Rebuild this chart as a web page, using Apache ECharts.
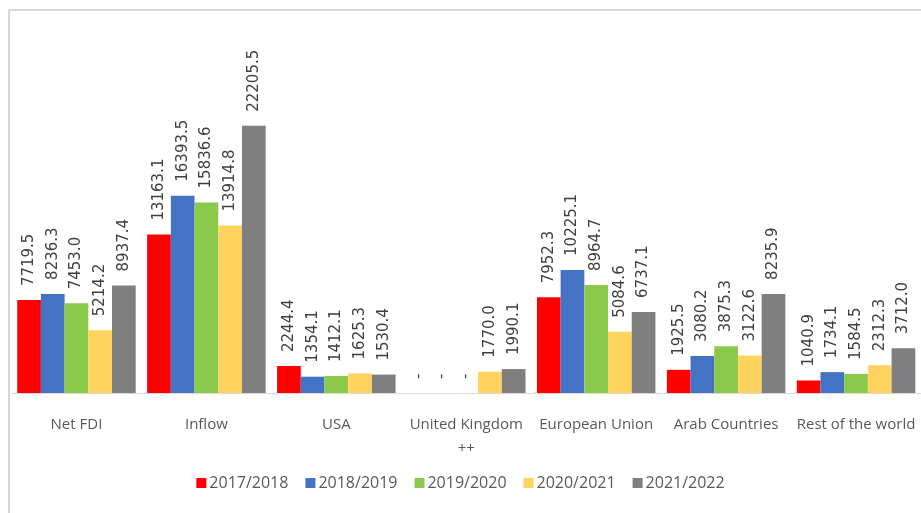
<!DOCTYPE html>
<html>
<head>
<meta charset="utf-8">
<script src="https://cdn.jsdelivr.net/npm/echarts@6/dist/echarts.min.js"></script>
<style>
html,body{margin:0;padding:0;background:#fff;}
#chart{width:921px;height:513px;}
</style>
</head>
<body>
<div id="chart"></div>
<script>
const categories = ['Net FDI', 'Inflow', 'USA', 'United Kingdom\n++', 'European Union', 'Arab Countries', 'Rest of the world'];
const seriesNames = ['2017/2018', '2018/2019', '2019/2020', '2020/2021', '2021/2022'];
const s2017 = [7719.5, 13163.1, 2244.4, 0, 7952.3, 1925.5, 1040.9];
const s2018 = [8236.3, 16393.5, 1354.1, 0, 10225.1, 3080.2, 1734.1];
const s2019 = [7453.0, 15836.6, 1412.1, 0, 8964.7, 3875.3, 1584.5];
const s2020 = [5214.2, 13914.8, 1625.3, 1770.0, 5084.6, 3122.6, 2312.3];
const s2021 = [8937.4, 22205.5, 1530.4, 1990.1, 6737.1, 8235.9, 3712.0];
const seriesData = [s2017, s2018, s2019, s2020, s2021];
const colors = ['#FF0000', '#4472C4', '#8BC94A', '#FFD45E', '#7F7F7F'];

const chart = echarts.init(document.getElementById('chart'));
chart.setOption({
  animation: false,
  grid: { left: 11.5, right: -3, top: 32, bottom: 120 },
  graphic: [
    { type: 'line', shape: { x1: 9, y1: 10, x2: 921, y2: 10 }, style: { stroke: '#d6d6d6', lineWidth: 2 } },
    { type: 'line', shape: { x1: 9, y1: 10, x2: 9, y2: 513 }, style: { stroke: '#d6d6d6', lineWidth: 2 } }
  ],
  legend: {
    bottom: 17,
    left: 'center',
    icon: 'rect',
    itemWidth: 10,
    itemHeight: 10,
    itemGap: 17,
    textStyle: { fontFamily: 'Open Sans', fontSize: 16, color: '#595959', padding: [0, 0, 0, -2] },
    data: seriesNames
  },
  xAxis: {
    type: 'category',
    data: categories,
    axisLine: { lineStyle: { color: '#d9d9d9', width: 1 } },
    axisTick: { show: false },
    axisLabel: { fontFamily: 'Open Sans', fontSize: 15, color: '#595959', margin: 20, lineHeight: 24, interval: 0 }
  },
  yAxis: {
    type: 'value',
    min: 0,
    max: 30000,
    show: false,
    splitLine: { show: false }
  },
  series: seriesData.map((d, i) => ({
    name: seriesNames[i],
    type: 'bar',
    data: d,
    barWidth: 23.7,
    barGap: '0%',
    itemStyle: { color: colors[i] },
    label: {
      show: true,
      position: 'top',
      rotate: 90,
      align: 'left',
      verticalAlign: 'middle',
      distance: 14,
      fontFamily: 'DejaVu Sans',
      fontSize: 15,
      color: '#404040',
      formatter: p => p.value === 0 ? '-' : p.value.toFixed(1)
    }
  }))
});
</script>
</body>
</html>
